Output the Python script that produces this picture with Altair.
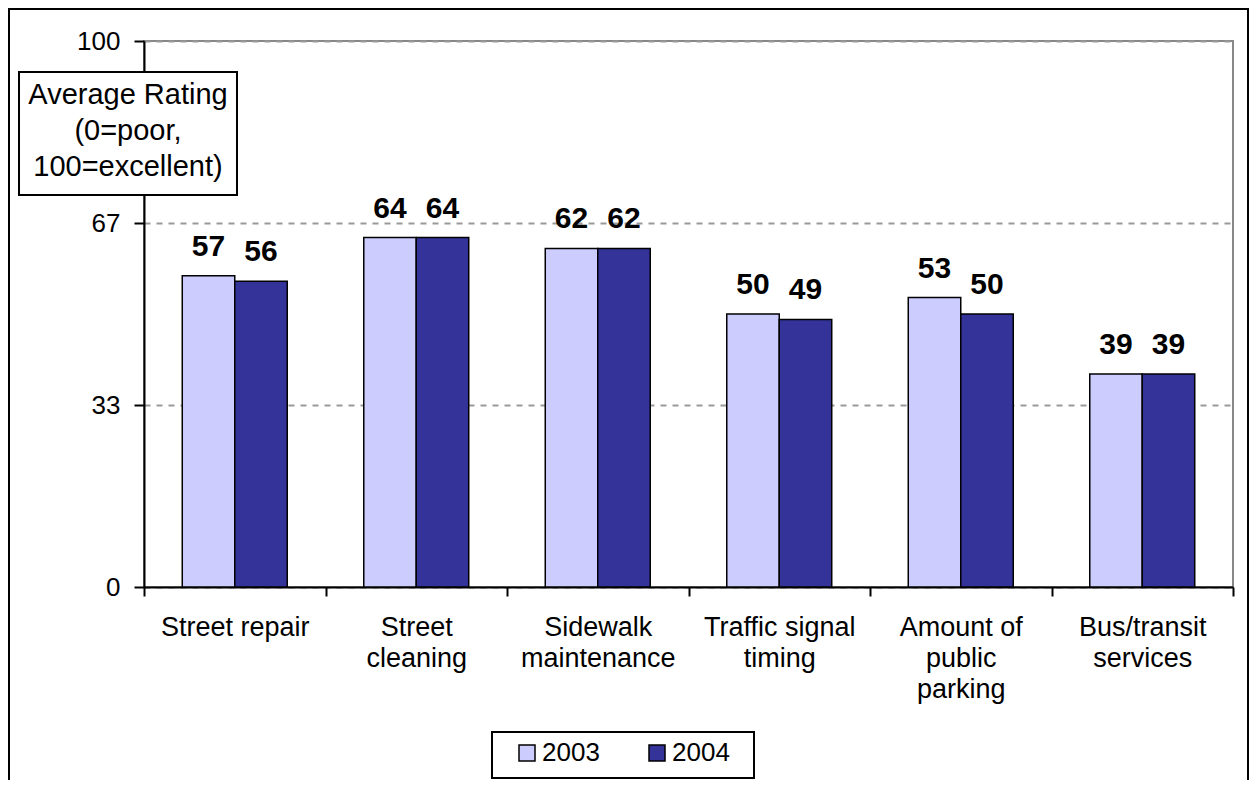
import altair as alt
import pandas as pd

categories = ["Street repair", "Street\ncleaning", "Sidewalk\nmaintenance",
              "Traffic signal\ntiming", "Amount of\npublic\nparking", "Bus/transit\nservices"]
years = ["2003", "2004"]
values_2003 = [57, 64, 62, 50, 53, 39]
values_2004 = [56, 64, 62, 49, 50, 39]
y_ticks = [0, 100 / 3, 200 / 3, 100]
y_title_lines = ["Average Rating", "(0=poor,", "100=excellent)"]
colors = ["#CCCCFF", "#333399"]

rows = []
for c, a, b in zip(categories, values_2003, values_2004):
    rows.append({"category": c, "year": years[0], "value": a})
    rows.append({"category": c, "year": years[1], "value": b})
df = pd.DataFrame(rows)

W, H = 1089, 546
FONT = "Liberation Sans"

x = alt.X(
    "category:N", sort=categories,
    scale=alt.Scale(paddingInner=0, paddingOuter=0),
    axis=alt.Axis(title=None, labelAngle=0, labelExpr="split(datum.label, '\\n')",
                  tickBand="extent", domainColor="black", domainWidth=2,
                  tickColor="black", tickWidth=2, tickSize=9, labelPadding=18,
                  labelFont=FONT, labelFontSize=27, labelColor="black",
                  labelLineHeight=31, labelBaseline="top", grid=False, labelLimit=400),
)
xoff = alt.XOffset("year:N", scale=alt.Scale(paddingInner=0, paddingOuter=0.729))
y = alt.Y(
    "value:Q", scale=alt.Scale(domain=[0, 100], nice=False),
    axis=alt.Axis(values=y_ticks, format=".0f", title=None, grid=True,
                  gridDash=[6, 6], gridColor="#999999", gridWidth=2,
                  domainColor="black", domainWidth=2, tickColor="black",
                  tickWidth=2, tickSize=10, labelPadding=14, labelFont=FONT,
                  labelFontSize=26, labelColor="black"),
)

one = pd.DataFrame({"k": [0]})

frame = alt.Chart(one).mark_rect(fillOpacity=0, stroke="black", strokeWidth=2).encode(
    x=alt.value(-135), x2=alt.value(W + 15), y=alt.value(-32), y2=alt.value(H + 230))

bars = alt.Chart(df).mark_bar(stroke="black", strokeWidth=1.5).encode(
    x=x, xOffset=xoff, y=y,
    color=alt.Color("year:N", scale=alt.Scale(domain=years, range=colors),
                    legend=alt.Legend(title=None, orient="none", legendX=370, legendY=699,
                                      direction="horizontal", symbolType="square",
                                      symbolSize=256, symbolStrokeColor="black",
                                      symbolStrokeWidth=1.5, symbolOpacity=1,
                                      labelFont=FONT, labelFontSize=26, labelColor="black",
                                      labelOffset=2, columnPadding=44, padding=0)),
)

labels = alt.Chart(df).mark_text(font=FONT, fontSize=30, fontWeight="bold",
                                 baseline="alphabetic", dy=-20, color="black").encode(
    x=x, xOffset=xoff, y=y, text=alt.Text("value:Q", format=".0f"))

tbox = alt.Chart(one).mark_rect(fill="white", stroke="black", strokeWidth=2).encode(
    x=alt.value(-125), x2=alt.value(93), y=alt.value(31), y2=alt.value(154))

ttext = alt.Chart(one).mark_text(font=FONT, fontSize=29, align="center",
                                 baseline="alphabetic", lineHeight=36, color="black").encode(
    x=alt.value(-16), y=alt.value(63), text=alt.value(y_title_lines))

lbox = alt.Chart(one).mark_rect(fill="white", stroke="black", strokeWidth=2).encode(
    x=alt.value(348), x2=alt.value(610), y=alt.value(691), y2=alt.value(737))

chart = alt.layer(frame, bars, labels, tbox, ttext, lbox).properties(
    width=W, height=H,
    padding={"left": 136, "top": 33, "right": 16, "bottom": 193},
    autosize=alt.AutoSizeParams(type="none"),
    background="white",
).configure_view(stroke="#888888", strokeWidth=2)

chart.save("out.html", embed_options={"renderer": "svg", "actions": False})
